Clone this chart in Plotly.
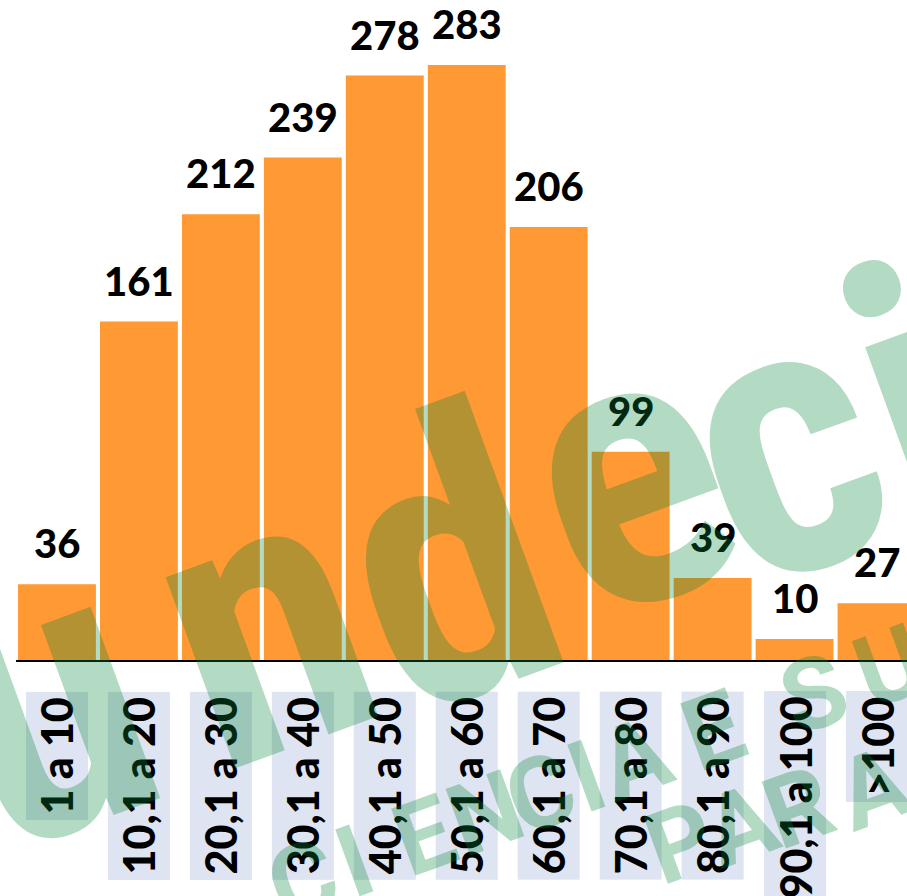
import plotly.graph_objects as go

categories = ["1 a 10", "10,1 a 20", "20,1 a 30", "30,1 a 40", "40,1 a 50", "50,1 a 60",
              "60,1 a 70", "70,1 a 80", "80,1 a 90", "90,1 a 100", ">100"]
values = [36, 161, 212, 239, 278, 283, 206, 99, 39, 10, 27]

W, H = 907, 896
ML, MB = 15.5, 236
PLOT_W = W - ML
PLOT_H = H - MB

def px(x):
    return (x - ML) / PLOT_W

def py(y):
    return (PLOT_H - y) / PLOT_H

fig = go.Figure()
fig.add_trace(go.Bar(
    x=list(range(len(categories))), y=values,
    marker=dict(color="#FF9933", line=dict(width=0)),
    hoverinfo="skip",
))

annotations = []
# value labels
for i, v in enumerate(values):
    annotations.append(dict(
        x=i, y=v, xref="x", yref="y", text=str(v), showarrow=False,
        yanchor="bottom", xanchor="center", yshift=15,
        font=dict(family="Lato", size=40, color="#000000", weight=900),
    ))
# category labels with background boxes
for i, c in enumerate(categories):
    annotations.append(dict(
        x=i, y=0, xref="x", yref="paper", text=c, showarrow=False,
        textangle=-90, yanchor="top", xanchor="center", yshift=-31,
        bgcolor="#DEE4F1", borderpad=5,
        font=dict(family="Lato", size=43, color="#000000", weight=900),
    ))

# watermark (semi-transparent, drawn on top)
wm_color = "rgba(3,133,54,0.30)"
wm_big_font = "Liberation Sans Narrow, Roboto Condensed, Roboto"
big_letters = [("u", 43, 700), ("n", 262, 618), ("d", 447, 564),
               ("e", 626, 472), ("c", 782, 440), ("i", 915, 405)]
for ch, x, y in big_letters:
    annotations.append(dict(
        x=px(x), y=py(y), xref="paper", yref="paper", text=ch, showarrow=False,
        textangle=-20, xanchor="center", yanchor="middle",
        font=dict(family=wm_big_font, size=385, color=wm_color, weight="bold"),
    ))

line1 = "CIENCIAESU"
line1_s = [0, 55, 130, 195, 253, 303, 354, 437, 545, 625]
for ch, s in zip(line1, line1_s):
    annotations.append(dict(
        x=px(302 + 0.94 * s), y=py(880 - 0.342 * s), xref="paper", yref="paper",
        text=ch, showarrow=False, textangle=-20, xanchor="center", yanchor="middle",
        font=dict(family="Roboto", size=100, color=wm_color, weight="bold"),
    ))

line2 = [("P", 680, 842), ("A", 740, 825), ("R", 798, 807), ("A", 872, 788)]
for ch, x, y in line2:
    annotations.append(dict(
        x=px(x), y=py(y), xref="paper", yref="paper", text=ch, showarrow=False,
        textangle=-20, xanchor="center", yanchor="middle",
        font=dict(family="Roboto", size=100, color=wm_color, weight="bold"),
    ))

fig.update_layout(
    width=W, height=H,
    margin=dict(l=ML, r=0, t=0, b=MB, pad=0),
    paper_bgcolor="white", plot_bgcolor="white",
    showlegend=False, bargap=0.05,
    annotations=annotations,
    xaxis=dict(range=[-0.5, -0.5 + PLOT_W / 82.0], showline=True, linecolor="#000000",
               linewidth=2, showticklabels=False, ticks="", showgrid=False, zeroline=False,
               fixedrange=True),
    yaxis=dict(range=[0, PLOT_H / 2.1025], visible=False, showgrid=False, zeroline=False,
               fixedrange=True),
)

fig.write_html("out.html", config={"displayModeBar": False},
               post_script="document.body.style.margin='0';document.body.style.overflow='hidden';")
